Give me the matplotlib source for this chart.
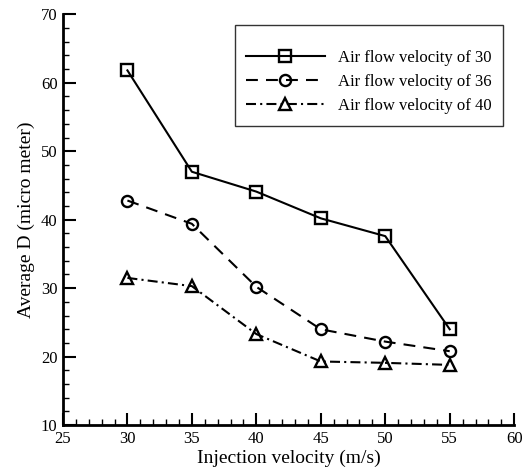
import matplotlib
matplotlib.use('Agg')
import matplotlib.pyplot as plt
from matplotlib.ticker import MultipleLocator

plt.rcParams['font.family'] = ['Liberation Serif', 'DejaVu Serif']

# 数据
injection = [30, 35, 40, 45, 50, 55]
d_air30 = [61.8, 47.0, 44.1, 40.2, 37.6, 24.0]
d_air36 = [42.8, 39.4, 30.2, 24.0, 22.2, 20.8]
d_air40 = [31.5, 30.3, 23.3, 19.3, 19.1, 18.8]
labels = ['Air flow velocity of 30', 'Air flow velocity of 36', 'Air flow velocity of 40']

fig = plt.figure(figsize=(5.29, 4.74), dpi=100)
ax = fig.add_axes([0.119, 0.103, 0.853, 0.867])

mk = dict(markersize=8, markerfacecolor='none', markeredgecolor='black',
          markeredgewidth=1.7, color='black', linewidth=1.5)
ax.plot(injection, d_air30, '-', marker='s', label=labels[0], **mk)
ax.plot(injection, d_air36, linestyle=(0, (5.7, 3.9)), marker='o', label=labels[1], **mk)
ax.plot(injection, d_air40, linestyle=(0, (4.8, 2, 1, 2)), marker='^', label=labels[2], **mk)

ax.set_xlim(25, 60)
ax.set_ylim(10, 70)
ax.xaxis.set_major_locator(MultipleLocator(5))
ax.xaxis.set_minor_locator(MultipleLocator(1))
ax.yaxis.set_major_locator(MultipleLocator(10))
ax.yaxis.set_minor_locator(MultipleLocator(2))
ax.tick_params(which='major', direction='in', length=9, width=1.5, labelsize=12, pad=4)
ax.tick_params(which='minor', direction='in', length=4.5, width=1)
ax.spines['top'].set_visible(False)
ax.spines['right'].set_visible(False)
for s in ['left', 'bottom']:
    ax.spines[s].set_linewidth(2)

ax.set_xlabel('Injection velocity (m/s)', fontsize=14, labelpad=2)
ax.set_ylabel('Average D (micro meter)', fontsize=14, labelpad=4)

leg = ax.legend(loc='upper right', bbox_to_anchor=(0.994, 0.995), fontsize=12,
                handlelength=4.7, frameon=True, fancybox=False, edgecolor='black',
                borderpad=0.7, labelspacing=0.5, title=' ', title_fontsize=5)
leg.get_frame().set_linewidth(1)

fig.savefig('out.png', dpi=100)
